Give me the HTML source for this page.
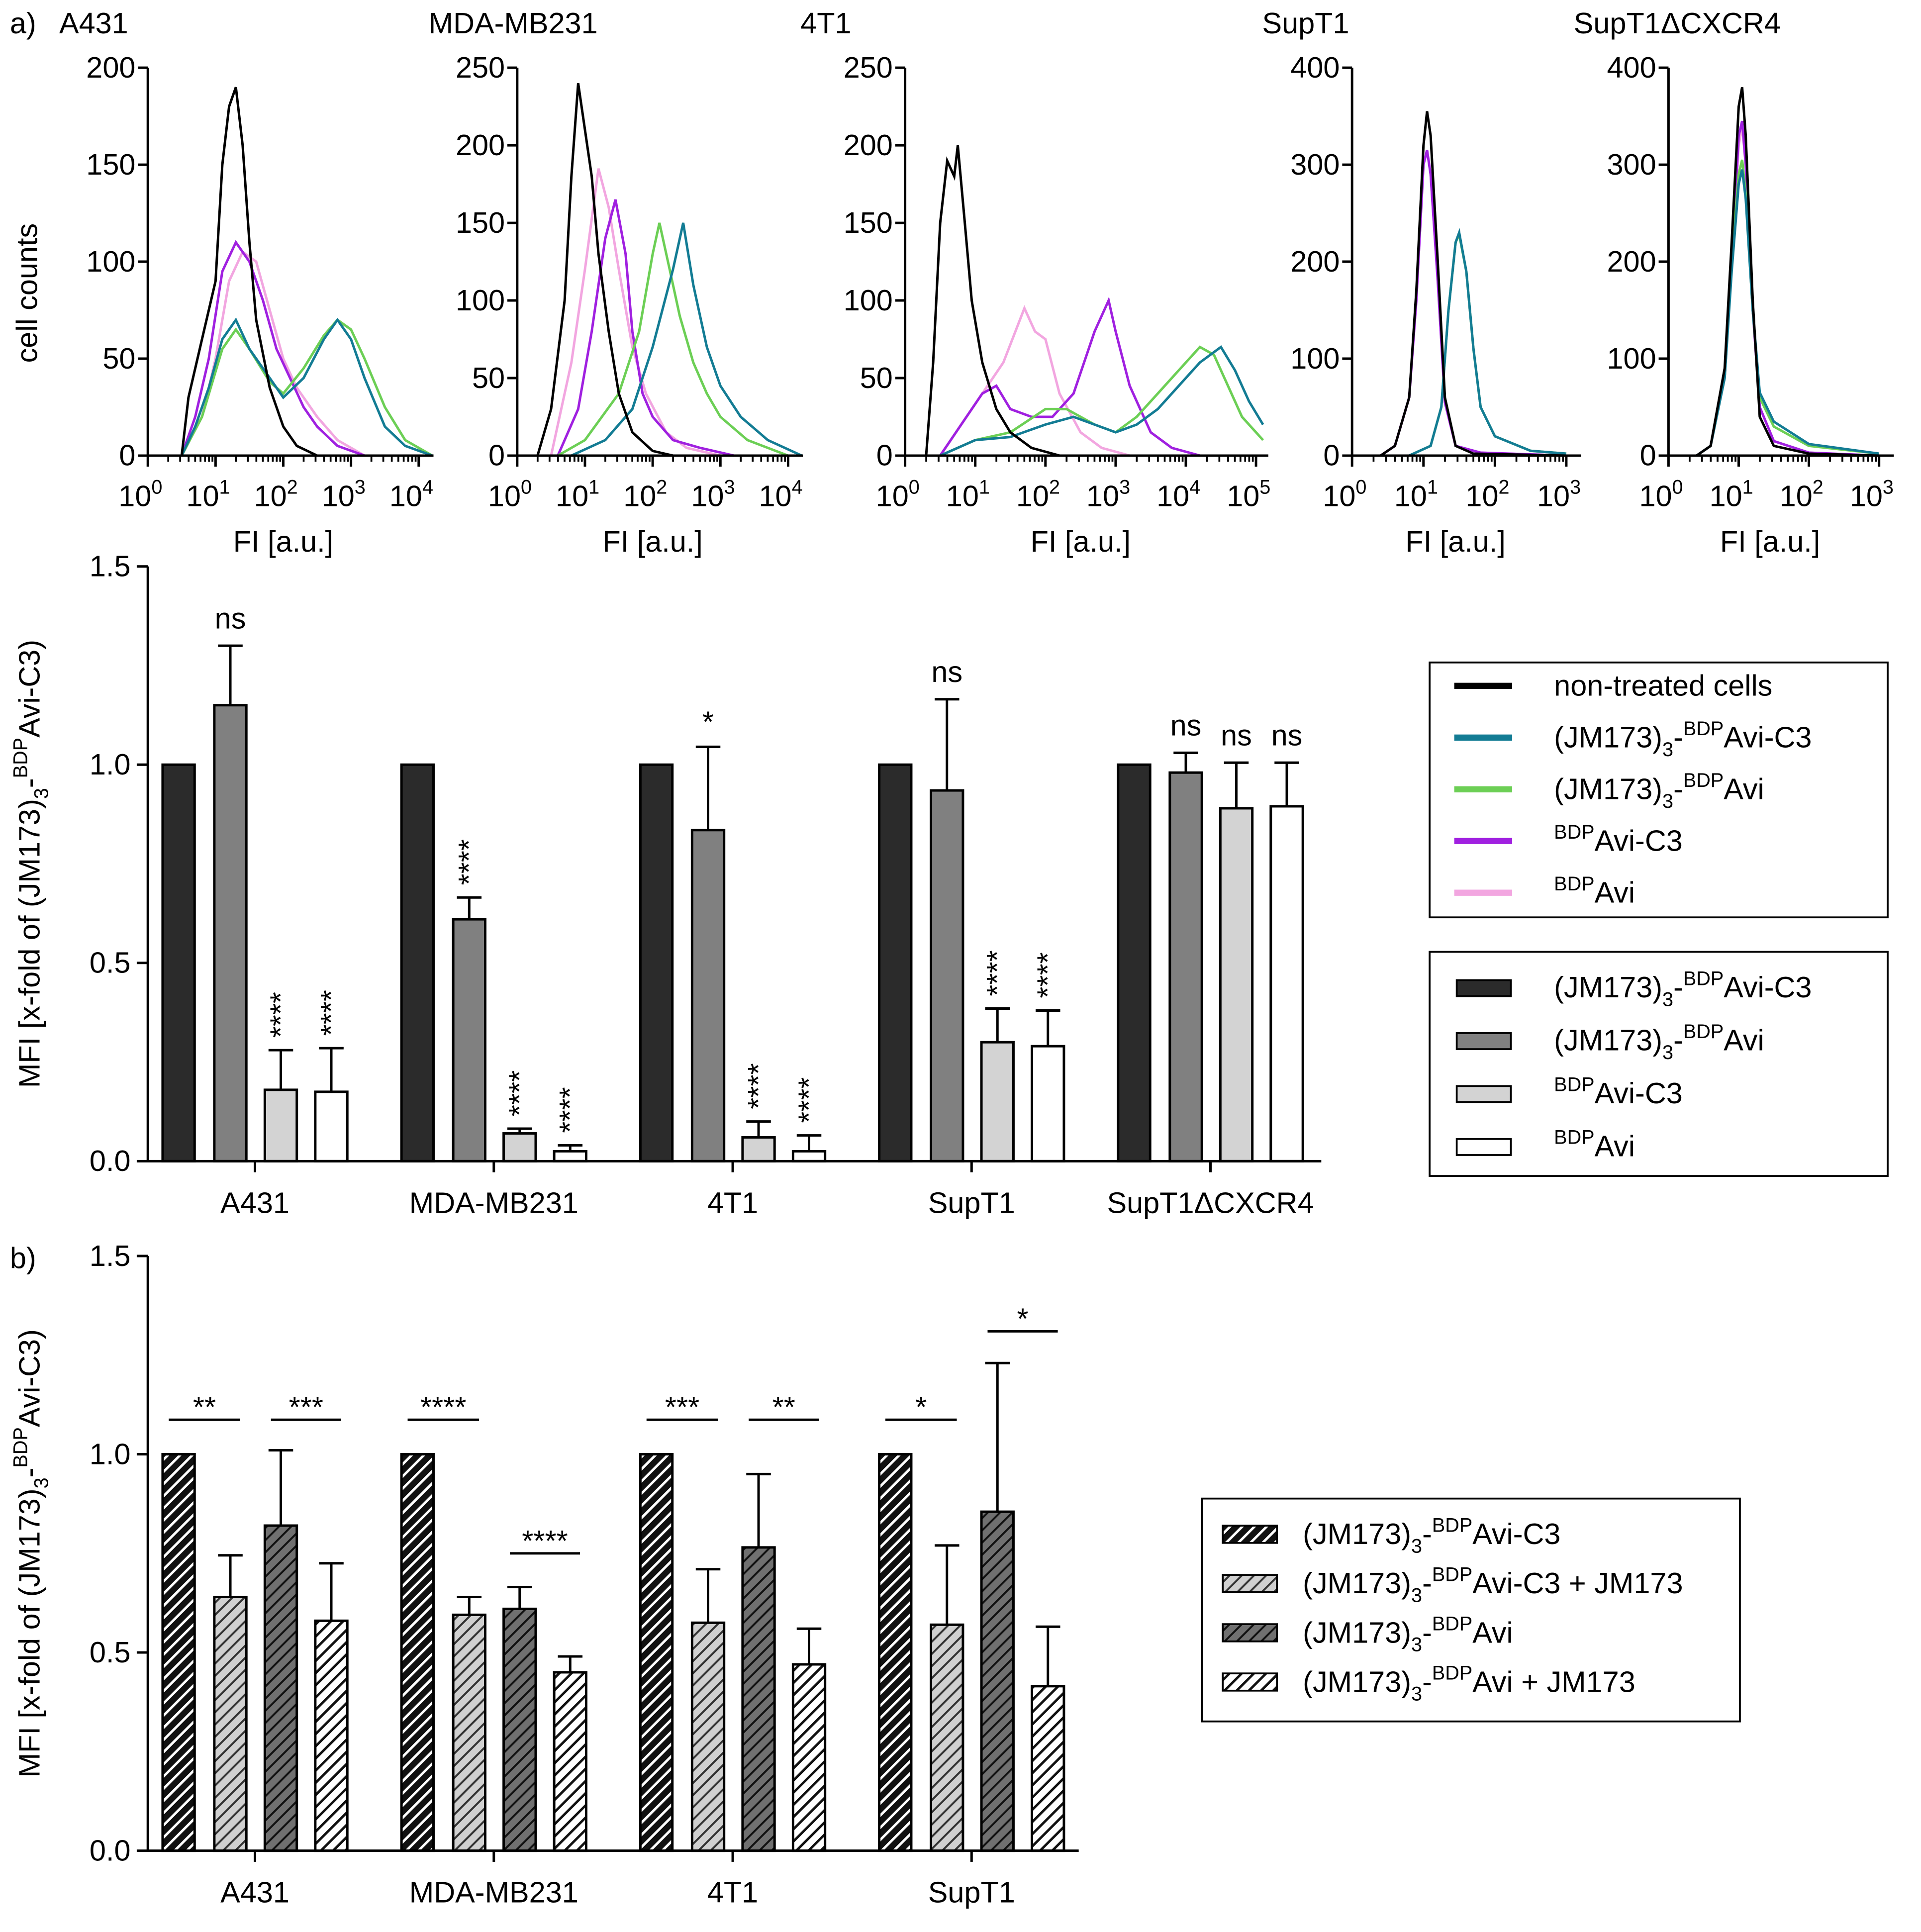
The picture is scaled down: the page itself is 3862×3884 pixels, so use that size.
<!DOCTYPE html>
<html><head><meta charset="utf-8"><style>
html,body{margin:0;padding:0;background:#fff}
svg{display:block;font-family:"Liberation Sans",sans-serif}
</style></head><body>
<svg id="fig" width="3862" height="3884" viewBox="0 0 1560 1569" xmlns="http://www.w3.org/2000/svg">
<defs>
<pattern id="h1" patternUnits="userSpaceOnUse" width="7" height="7" patternTransform="rotate(45)"><rect width="7" height="7" fill="#111"/><rect x="0" width="2" height="7" fill="#fff"/></pattern>
<pattern id="h2" patternUnits="userSpaceOnUse" width="7" height="7" patternTransform="rotate(45)"><rect width="7" height="7" fill="#d0d0d0"/><rect x="0" width="1.6" height="7" fill="#333"/></pattern>
<pattern id="h3" patternUnits="userSpaceOnUse" width="7" height="7" patternTransform="rotate(45)"><rect width="7" height="7" fill="#707070"/><rect x="0" width="1.6" height="7" fill="#111"/></pattern>
<pattern id="h4" patternUnits="userSpaceOnUse" width="7" height="7" patternTransform="rotate(45)"><rect width="7" height="7" fill="#fff"/><rect x="0" width="2" height="7" fill="#111"/></pattern>
</defs>
<g id="root"></g>
</svg>
<script>
const histTitles=["A431","MDA-MB231","4T1","SupT1","SupT1ΔCXCR4"];
const histYMax=[200,250,250,400,400];
const histYTicks=[[0,50,100,150,200],[0,50,100,150,200,250],[0,50,100,150,200,250],[0,100,200,300,400],[0,100,200,300,400]];
const histDecades=[4,4,5,3,3];
const h0pink=[[0.5,0],[0.8,20],[1.0,50],[1.2,90],[1.4,105],[1.6,100],[1.8,75],[2.0,50],[2.2,35],[2.5,20],[2.8,8],[3.2,0]];
const h0mag=[[0.5,0],[0.7,20],[0.9,50],[1.1,95],[1.3,110],[1.5,100],[1.7,80],[1.9,55],[2.1,40],[2.3,25],[2.5,15],[2.8,5],[3.2,0]];
const h0green=[[0.5,0],[0.8,20],[1.1,55],[1.3,65],[1.5,55],[1.8,38],[2.0,32],[2.3,45],[2.6,62],[2.8,70],[3.0,65],[3.2,50],[3.5,25],[3.8,8],[4.2,0]];
const h0teal=[[0.5,0],[0.7,15],[0.9,35],[1.1,60],[1.3,70],[1.5,55],[1.8,40],[2.0,30],[2.3,40],[2.6,60],[2.8,70],[3.0,60],[3.2,40],[3.5,15],[3.8,5],[4.2,0]];
const h0black=[[0.5,0],[0.6,30],[0.8,60],[1.0,90],[1.1,150],[1.2,180],[1.3,190],[1.4,160],[1.5,110],[1.6,70],[1.8,35],[2.0,15],[2.2,5],[2.5,0]];
const h1pink=[[0.5,0],[0.8,60],[1.0,120],[1.2,185],[1.35,160],[1.5,120],[1.7,70],[1.9,40],[2.2,15],[2.5,5],[3,0]];
const h1mag=[[0.6,0],[0.9,30],[1.1,80],[1.3,140],[1.45,165],[1.6,130],[1.7,80],[1.85,40],[2.0,25],[2.3,10],[2.7,5],[3.2,0]];
const h1green=[[0.6,0],[1.0,10],[1.5,40],[1.8,80],[2.0,130],[2.1,150],[2.25,120],[2.4,90],[2.6,60],[2.8,40],[3.0,25],[3.4,10],[4,0]];
const h1teal=[[0.8,0],[1.3,10],[1.7,30],[2.0,70],[2.3,120],[2.45,150],[2.6,110],[2.8,70],[3.0,45],[3.3,25],[3.7,10],[4.2,0]];
const h1black=[[0.3,0],[0.5,30],[0.7,100],[0.8,180],[0.9,240],[1.0,210],[1.1,180],[1.2,130],[1.35,80],[1.5,40],[1.7,15],[2.0,3],[2.3,0]];
const h2pink=[[0.5,0],[0.8,20],[1.1,40],[1.4,60],[1.7,95],[1.85,80],[2.0,75],[2.2,40],[2.5,15],[2.8,5],[3.2,0]];
const h2mag=[[0.5,0],[0.8,20],[1.1,40],[1.3,45],[1.5,30],[1.8,25],[2.1,25],[2.4,40],[2.7,80],[2.9,100],[3.0,80],[3.2,45],[3.5,15],[3.8,5],[4.2,0]];
const h2green=[[0.5,0],[1.0,10],[1.5,15],[2.0,30],[2.3,30],[2.7,20],[3.0,15],[3.3,25],[3.6,40],[3.9,55],[4.2,70],[4.4,65],[4.6,45],[4.8,25],[5.1,10]];
const h2teal=[[0.5,0],[1.0,10],[1.5,12],[2.0,20],[2.4,25],[2.7,20],[3.0,15],[3.3,20],[3.6,30],[3.9,45],[4.2,60],[4.5,70],[4.7,55],[4.9,35],[5.1,20]];
const h2black=[[0.3,0],[0.4,60],[0.5,150],[0.6,190],[0.7,180],[0.75,200],[0.85,150],[0.95,100],[1.1,60],[1.3,30],[1.5,15],[1.8,5],[2.2,0]];
const h3pink=[[0.4,0],[0.6,10],[0.8,60],[0.9,160],[1.0,300],[1.05,315],[1.1,290],[1.2,180],[1.3,55],[1.45,10],[1.8,3],[3,0]];
const h3mag=[[0.4,0],[0.6,10],[0.8,60],[0.9,160],[1.0,300],[1.05,315],[1.1,290],[1.2,180],[1.3,55],[1.45,10],[1.8,3],[3,0]];
const h3green=[[0.8,0],[1.1,10],[1.25,50],[1.35,150],[1.45,220],[1.5,228],[1.6,190],[1.7,110],[1.8,50],[2.0,20],[2.5,5],[3,2]];
const h3teal=[[0.8,0],[1.1,10],[1.25,50],[1.35,150],[1.45,220],[1.5,230],[1.6,190],[1.7,110],[1.8,50],[2.0,20],[2.5,5],[3,2]];
const h3black=[[0.4,0],[0.6,10],[0.8,60],[0.9,170],[1.0,320],[1.05,355],[1.1,330],[1.2,200],[1.3,60],[1.45,10],[1.7,2],[3,0]];
const h4pink=[[0.4,0],[0.6,10],[0.8,80],[0.9,200],[1.0,320],[1.05,340],[1.1,300],[1.2,150],[1.3,50],[1.5,15],[2,3],[3,0]];
const h4mag=[[0.4,0],[0.6,10],[0.8,80],[0.9,200],[1.0,330],[1.05,345],[1.1,300],[1.2,150],[1.3,50],[1.5,15],[2,3],[3,0]];
const h4green=[[0.4,0],[0.6,10],[0.8,80],[0.9,200],[1.0,290],[1.05,305],[1.1,270],[1.2,150],[1.3,60],[1.5,30],[2,10],[3,2]];
const h4teal=[[0.4,0],[0.6,10],[0.8,80],[0.9,190],[1.0,280],[1.05,295],[1.1,265],[1.2,150],[1.3,65],[1.5,35],[2,12],[3,2]];
const h4black=[[0.4,0],[0.6,10],[0.8,90],[0.9,220],[1.0,360],[1.05,380],[1.1,330],[1.2,160],[1.3,40],[1.5,10],[2,2],[3,0]];
const histSeries=[[h0pink,h0mag,h0green,h0teal,h0black],[h1pink,h1mag,h1green,h1teal,h1black],[h2pink,h2mag,h2green,h2teal,h2black],[h3pink,h3mag,h3green,h3teal,h3black],[h4pink,h4mag,h4green,h4teal,h4black]];
const seriesColors=["#f2a6e0","#a020e0","#6ccf55","#137c94","#000"];
const seriesNames=["bdpavi","bdpavi-c3","jm173-bdpavi","jm173-bdpavi-c3","non-treated"];
const histAxisX=[120,420,735,1098,1355];
const histDecadePx=[55,55,57,58,57];

const groupsA=["A431","MDA-MB231","4T1","SupT1","SupT1ΔCXCR4"];
const valsA=[[1,1.15,0.18,0.175],[1,0.61,0.07,0.025],[1,0.835,0.06,0.025],[1,0.935,0.30,0.29],[1,0.98,0.89,0.895]];
const errA=[[0,0.15,0.10,0.11],[0,0.055,0.012,0.015],[0,0.21,0.04,0.04],[0,0.23,0.085,0.09],[0,0.05,0.115,0.11]];
const sigA=[["","ns","****","****"],["","****","****","****"],["","*","****","****"],["","ns","****","****"],["","ns","ns","ns"]];
const yTicks=[0,0.5,1.0,1.5];
const groupsB=["A431","MDA-MB231","4T1","SupT1"];
const valsB=[[1,0.64,0.82,0.58],[1,0.595,0.61,0.45],[1,0.575,0.765,0.47],[1,0.57,0.855,0.415]];
const errB=[[0,0.105,0.19,0.145],[0,0.045,0.055,0.04],[0,0.135,0.185,0.09],[0,0.2,0.375,0.15]];
const sigB12=["**","****","***","*"];
const sigB12y=[1.087,1.087,1.087,1.087];
const sigB34=["***","****","**","*"];
const sigB34y=[1.087,0.75,1.087,1.31];

const NS="http://www.w3.org/2000/svg";
const root=document.getElementById('root');
function el(tag,attrs,parent,txt){const e=document.createElementNS(NS,tag);for(const k in attrs)e.setAttribute(k,attrs[k]);if(txt!==undefined)e.textContent=txt;(parent||root).appendChild(e);return e;}
const FS=24;

const hy0=370,hy1=55;
histTitles.forEach((t,i)=>{
  const g=el('g',{});
  
  
  const ax=histAxisX[i],dp=histDecadePx[i],ym=histYMax[i];
  const X=v=>ax+v*dp, Y=c=>hy0-(c/ym)*(hy0-hy1);
  const xEnd=ax+histDecades[i]*dp+(i==2?10:12);
  histSeries[i].forEach((s,j)=>{
    const p=el('polyline',{points:s.map(q=>X(q[0]).toFixed(1)+','+Y(q[1]).toFixed(1)).join(' '),fill:'none',stroke:seriesColors[j],'stroke-width':2},g);
    
    
  });
  el('line',{x1:ax,y1:hy1,x2:ax,y2:hy0,stroke:'#000','stroke-width':2},g);
  el('line',{x1:ax,y1:hy0,x2:xEnd,y2:hy0,stroke:'#000','stroke-width':2},g);
  histYTicks[i].forEach(v=>{
    el('line',{x1:ax-8,y1:Y(v),x2:ax,y2:Y(v),stroke:'#000','stroke-width':2},g);
    const tx=el('text',{x:ax-10,y:Y(v)+8,'font-size':FS,'text-anchor':'end'},g,String(v));
    
    
  });
  for(let d=0;d<=histDecades[i];d++){
    el('line',{x1:X(d),y1:hy0,x2:X(d),y2:hy0+9,stroke:'#000','stroke-width':2},g);
    if(d<histDecades[i])for(let m=2;m<=9;m++){const xx=X(d+Math.log10(m));el('line',{x1:xx,y1:hy0,x2:xx,y2:hy0+5,stroke:'#000','stroke-width':1.5},g);}
    const tx=el('text',{x:X(d)-6,y:hy0+41,'font-size':FS,'text-anchor':'middle'},g);
    
    
    tx.appendChild(document.createTextNode('10'));
    el('tspan',{dy:-10,'font-size':16},tx,String(d));
  }
  const xt=el('text',{x:ax+histDecades[i]*dp/2+(i>=3?-3:0),y:hy0+78,'font-size':FS,'text-anchor':'middle'},g,'FI [a.u.]');
  
  
  const tt=el('text',{x:[48,348,650,1025,1278][i],y:27,'font-size':FS},g,t);
  
  
});
const pa=el('text',{x:8,y:27,'font-size':FS},root,'a)');
const yl=el('text',{x:0,y:0,'font-size':FS,'text-anchor':'middle',transform:'translate(30,238) rotate(-90)'},root,'cell counts');


function barChart(groups,vals,errs,y0,xEnd,fills,name){
  const g=el('g',{});
  
  
  const Y=v=>y0-v*322;
  const centers=groups.map((_,i)=>207+i*194);
  const off=[-62,-20,21,62],bw=26;
  groups.forEach((gn,i)=>{
    vals[i].forEach((v,j)=>{
      const x=centers[i]+off[j]-bw/2;
      const e=errs[i][j];
      if(e>0){const cx=x+bw/2;el('line',{x1:cx,y1:Y(v),x2:cx,y2:Y(v+e),stroke:'#000','stroke-width':2},g);el('line',{x1:cx-10,y1:Y(v+e),x2:cx+10,y2:Y(v+e),stroke:'#000','stroke-width':2},g);}
      const r=el('rect',{x:x,y:Y(v),width:bw,height:v*322,fill:fills[j],stroke:'#000','stroke-width':2},g);
      
      
    });
    el('line',{x1:centers[i],y1:y0,x2:centers[i],y2:y0+9,stroke:'#000','stroke-width':2},g);
    const t=el('text',{x:centers[i],y:y0+42,'font-size':FS,'text-anchor':'middle'},g,gn);
    
    
  });
  el('line',{x1:120,y1:Y(1.5),x2:120,y2:y0,stroke:'#000','stroke-width':2},g);
  el('line',{x1:120,y1:y0,x2:xEnd,y2:y0,stroke:'#000','stroke-width':2},g);
  yTicks.forEach(v=>{
    el('line',{x1:111,y1:Y(v),x2:120,y2:Y(v),stroke:'#000','stroke-width':2},g);
    const t=el('text',{x:106,y:Y(v)+8,'font-size':FS,'text-anchor':'end'},g,v.toFixed(1));
    
    
  });
  const yt=el('text',{x:0,y:0,'font-size':FS,'text-anchor':'middle',transform:`translate(32,${(Y(1.5)+y0)/2}) rotate(-90)`},g);
  
  
  yt.appendChild(document.createTextNode('MFI [x-fold of (JM173)'));
  el('tspan',{dy:7,'font-size':16},yt,'3');
  el('tspan',{dy:-7},yt,'-');
  el('tspan',{dy:-10,'font-size':16},yt,'BDP');
  el('tspan',{dy:10},yt,'Avi-C3)');
  return {g,Y,centers,off};
}
const A=barChart(groupsA,valsA,errA,943,1073,['#2b2b2b','#808080','#d3d3d3','#fff'],'bar-chart-a');
groupsA.forEach((gn,i)=>{
  sigA[i].forEach((s,j)=>{
    if(!s)return;
    const cx=A.centers[i]+A.off[j];
    const top=A.Y(valsA[i][j]+errA[i][j]);
    let t;
    if(s==='****') t=el('text',{x:0,y:0,'font-size':24,'text-anchor':'start',transform:`translate(${cx+8},${top-10}) rotate(-90)`},A.g,s);
    else t=el('text',{x:cx,y:top-(s==='*'?12:14),'font-size':FS,'text-anchor':'middle'},A.g,s);
    
    
  });
});
const B=barChart(groupsB,valsB,errB,1503,876,['url(#h1)','url(#h2)','url(#h3)','url(#h4)'],'bar-chart-b');
groupsB.forEach((gn,i)=>{
  [[0,1,sigB12[i],sigB12y[i]],[2,3,sigB34[i],sigB34y[i]]].forEach(([a,b,s,yv])=>{
    const x1=B.centers[i]+B.off[a]-8,x2=B.centers[i]+B.off[b]+8,y=B.Y(yv);
    el('line',{x1,y1:y,x2,y2:y,stroke:'#000','stroke-width':2},B.g);
    const t=el('text',{x:(x1+x2)/2,y:y-2,'font-size':24,'text-anchor':'middle'},B.g,s);
    
    
  });
});
const pb=el('text',{x:8,y:1030,'font-size':FS},root,'b)');

function labelParts(t,parts){parts.forEach(p=>{if(p[1]==='sub')el('tspan',{dy:7,'font-size':16},t,p[0]);else if(p[1]==='sup')el('tspan',{dy:-10,'font-size':16},t,p[0]);else el('tspan',{dy:p[2]||0},t,p[0]);});}
const L_jm_c3=[["(JM173)"],["3","sub"],["-",0,-7],["BDP","sup"],["Avi-C3",0,10]];
const L_jm=[["(JM173)"],["3","sub"],["-",0,-7],["BDP","sup"],["Avi",0,10]];
const L_c3=[["BDP","sup"],["Avi-C3",0,10]];
const L_avi=[["BDP","sup"],["Avi",0,10]];
function legend(name,x,y,w,h,entries,textX,rowY0,rowDy){
  const g=el('g',{});
  
  
  el('rect',{x,y,width:w,height:h,fill:'#fff',stroke:'#000','stroke-width':1.5},g);
  entries.forEach((e,k)=>{
    const ry=rowY0+k*rowDy;
    const eg=el('g',{},g);
    
    
    e.sw(eg,ry);
    const t=el('text',{x:textX,y:ry+8,'font-size':FS},eg);
    if(typeof e.label==='string')t.textContent=e.label;else labelParts(t,e.label);
  });
}
const lineSw=c=>(g,y)=>el('line',{x1:1181,y1:y,x2:1228,y2:y,stroke:c,'stroke-width':5},g);
legend('legend-histogram',1161,538,372,207,[
 {sw:lineSw('#000'),label:'non-treated cells'},
 {sw:lineSw('#137c94'),label:L_jm_c3},
 {sw:lineSw('#6ccf55'),label:L_jm},
 {sw:lineSw('#a020e0'),label:L_c3},
 {sw:lineSw('#f2a6e0'),label:L_avi}],1262,557,42);
const boxSw=f=>(g,y)=>el('rect',{x:1183,y:y-6,width:44,height:13,fill:f,stroke:'#000','stroke-width':1.5},g);
legend('legend-bars-a',1161,773,372,182,[
 {sw:boxSw('#2b2b2b'),label:L_jm_c3},
 {sw:boxSw('#808080'),label:L_jm},
 {sw:boxSw('#d3d3d3'),label:L_c3},
 {sw:boxSw('#fff'),label:L_avi}],1262,802,43);
const hSw=f=>(g,y)=>el('rect',{x:993,y:y-7,width:44,height:14,fill:f,stroke:'#000','stroke-width':1.5},g);
legend('legend-bars-b',976,1217,437,181,[
 {sw:hSw('url(#h1)'),label:L_jm_c3},
 {sw:hSw('url(#h2)'),label:L_jm_c3.concat([[" + JM173"]])},
 {sw:hSw('url(#h3)'),label:L_jm},
 {sw:hSw('url(#h4)'),label:L_jm.concat([[" + JM173"]])}],1058,1246,40);
</script>
</body></html>
